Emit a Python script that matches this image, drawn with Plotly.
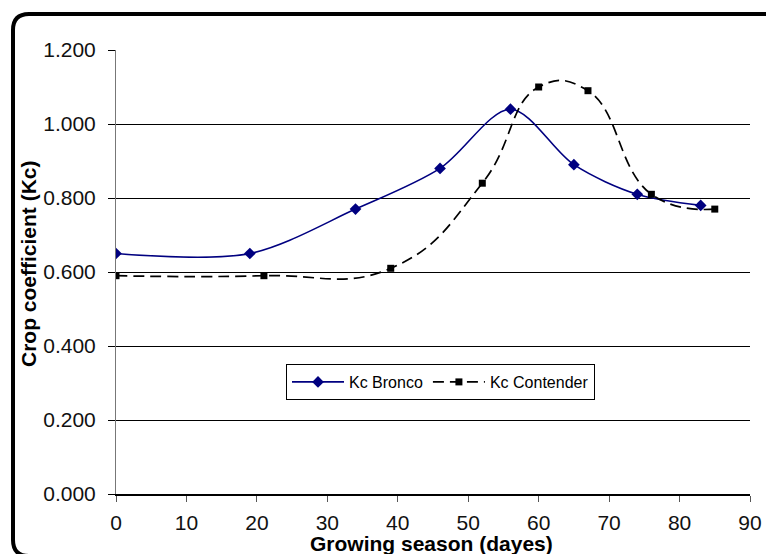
import plotly.graph_objects as go

days_bronco = [0, 19, 34, 46, 56, 65, 74, 83]
kc_bronco = [0.65, 0.65, 0.77, 0.88, 1.04, 0.89, 0.81, 0.78]
days_contender = [0, 21, 39, 52, 60, 67, 76, 85]
kc_contender = [0.59, 0.59, 0.61, 0.84, 1.10, 1.09, 0.81, 0.77]
x_ticks = [0, 10, 20, 30, 40, 50, 60, 70, 80, 90]
y_ticks = [0.0, 0.2, 0.4, 0.6, 0.8, 1.0, 1.2]

W, H = 766, 554
L, R, T, B = 116, 16, 50, 60
PW, PH = W - L - R, H - T - B

def px(xp):
    return (xp - L) / PW

def py(yp):
    return (H - B - yp) / PH

FONT = "Liberation Sans, Arial, sans-serif"

fig = go.Figure()
fig.add_trace(go.Scatter(
    x=days_bronco, y=kc_bronco, name="Kc Bronco", mode="lines+markers",
    line=dict(color="#000080", width=1.6, shape="spline", smoothing=0.9),
    marker=dict(symbol="diamond", size=9, color="#000080"),
))
fig.add_trace(go.Scatter(
    x=days_contender, y=kc_contender, name="Kc Contender", mode="lines+markers",
    line=dict(color="black", width=1.7, dash="11px,6px", shape="spline", smoothing=1.3),
    marker=dict(symbol="square", size=7, color="black"),
))

# rounded outer frame
r = 16
x0, y0, x1, y1 = 13, 14, 775, 556
path = (f"M {px(x1)},{py(y0)} L {px(x0 + r)},{py(y0)} "
        f"Q {px(x0)},{py(y0)} {px(x0)},{py(y0 + r)} "
        f"L {px(x0)},{py(y1 - r)} Q {px(x0)},{py(y1)} {px(x0 + r)},{py(y1)}")
fig.add_shape(type="path", xref="paper", yref="paper", path=path,
              line=dict(color="black", width=4))

fig.update_layout(
    width=W, height=H,
    margin=dict(l=L, r=R, t=T, b=B, pad=0, autoexpand=False),
    paper_bgcolor="white", plot_bgcolor="white",
    font=dict(family=FONT, color="black"),
    showlegend=True,
    legend=dict(orientation="h", x=px(286), y=py(364), xanchor="left", yanchor="top",
                bgcolor="white", bordercolor="black", borderwidth=1,
                font=dict(size=16, family=FONT), itemwidth=52),
    xaxis=dict(range=[0, 90], tickvals=x_ticks, ticks="outside", ticklen=6,
               tickcolor="#555", showgrid=False, showline=True, linecolor="black",
               linewidth=1.5, zeroline=False, tickfont=dict(size=21, color="#111"),
               ticklabelstandoff=3, automargin=False),
    yaxis=dict(range=[0, 1.2], tickvals=y_ticks, tickformat=".3f", ticks="outside",
               ticklen=7, tickcolor="black", showgrid=True, gridcolor="black",
               gridwidth=1, showline=True, linecolor="#777", linewidth=1,
               zeroline=False, tickfont=dict(size=21, color="#111"),
               ticklabelstandoff=8, automargin=False),
    annotations=[
        dict(text="<b>Growing season (dayes)</b>", xref="paper", yref="paper",
             x=px(431), y=py(543), xanchor="center", yanchor="middle",
             showarrow=False, font=dict(size=21, family=FONT)),
        dict(text="<b>Crop coefficient (Kc)</b>", xref="paper", yref="paper",
             x=px(28), y=py(264), xanchor="center", yanchor="middle", textangle=-90,
             showarrow=False, font=dict(size=21, family=FONT)),
    ],
)

fig.write_html("out.html")
